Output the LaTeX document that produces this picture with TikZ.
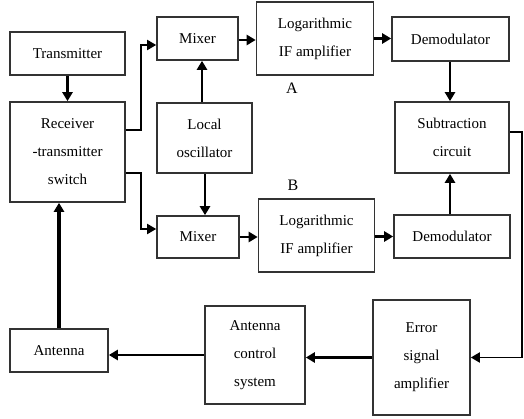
\documentclass[tikz,border=0pt]{standalone}
\usepackage{fontspec}
\setmainfont{Liberation Serif}
\usetikzlibrary{arrows.meta}
\tikzset{
  box/.style={draw=black!80, line width=1.6pt, fill=white, align=center, inner sep=0pt,
    font={\fontsize{15}{28}\selectfont}},
  arr/.style={line width=2.6pt, -{Triangle[length=9pt,width=10pt]}},
  thinarr/.style={line width=1.8pt, -{Triangle[length=9pt,width=10pt]}},
  lab/.style={font={\fontsize{16}{18}\selectfont}},
}
\begin{document}
\begin{tikzpicture}[x=1pt,y=-1pt]
\useasboundingbox (0,0) rectangle (524,419);
\node[box, minimum width=115pt, minimum height=43pt] (trans) at (67.5,53.5) {Transmitter};
\node[box, minimum width=115pt, minimum height=100pt] (switch) at (67.5,152) {Receiver\\-transmitter\\switch};
\node[box, minimum width=81pt, minimum height=43pt] (mixA) at (197.5,38.5) {Mixer};
\node[box, minimum width=95pt, minimum height=70pt] (lo) at (204.5,138) {Local\\oscillator};
\node[box, minimum width=117pt, minimum height=73pt] (logA) at (315,38.5) {Logarithmic\\IF amplifier};
\node[box, minimum width=117pt, minimum height=44pt] (demA) at (450.5,39) {Demodulator};
\node[box, minimum width=114pt, minimum height=71pt] (sub) at (452,137.5) {Subtraction\\circuit};
\node[box, minimum width=116pt, minimum height=73pt] (logB) at (316.5,235.5) {Logarithmic\\IF amplifier};
\node[box, minimum width=116pt, minimum height=43pt] (demB) at (452,236.5) {Demodulator};
\node[box, minimum width=82pt, minimum height=42pt] (mixB) at (198,237) {Mixer};
\node[box, minimum width=98pt, minimum height=43pt] (ant) at (59,350.5) {Antenna};
\node[box, minimum width=100pt, minimum height=98pt] (acs) at (255,355) {Antenna\\control\\system};
\node[box, minimum width=97pt, minimum height=115pt] (err) at (421.5,357.5) {Error\\signal\\amplifier};
\node[lab] (labA) at (292,88) {A};
\node[lab] (labB) at (293,185) {B};
\coordinate (rc) at (522,250);

\draw[arr] (trans.south) -- (switch.north);
\draw[thinarr] ([yshift=22pt]switch.east) -- ++(15,0) |- ([yshift=-6.5pt]mixA.west);
\draw[thinarr] ([yshift=-21pt]switch.east) -- ++(15,0) |- ([yshift=8pt]mixB.west);
\draw[arr] ([xshift=-2.5pt]lo.north) -- ([xshift=-2.5pt]lo.north |- mixA.south);
\draw[arr] ([xshift=0.5pt]lo.south) -- ([xshift=0.5pt]lo.south |- mixB.north);
\draw[arr] ([yshift=-1.5pt]mixA.east) -- ([yshift=-1.5pt]mixA.east -| logA.west);
\draw[arr] (logA.east) -- (logA.east -| demA.west);
\draw[arr] ([xshift=-0.5pt]demA.south) -- ([xshift=-0.5pt]demA.south |- sub.north);
\draw[arr] ([xshift=-2pt]demB.north) -- ([xshift=-2pt]demB.north |- sub.south);
\draw[arr] (mixB.east) -- (mixB.east -| logB.west);
\draw[arr] ([yshift=-1pt]logB.east) -- ([yshift=-1pt]logB.east -| demB.west);
\draw[thinarr] ([yshift=5.5pt]sub.east) -| (rc) |- (err.east);
\draw[arr] (err.west) -- (err.west -| acs.east);
\draw[arr] (acs.west) -- (acs.west -| ant.east);
\draw[line width=3.2pt, -{Triangle[length=9pt,width=10pt]}] (ant.north) -- (ant.north |- switch.south);
\end{tikzpicture}
\end{document}
